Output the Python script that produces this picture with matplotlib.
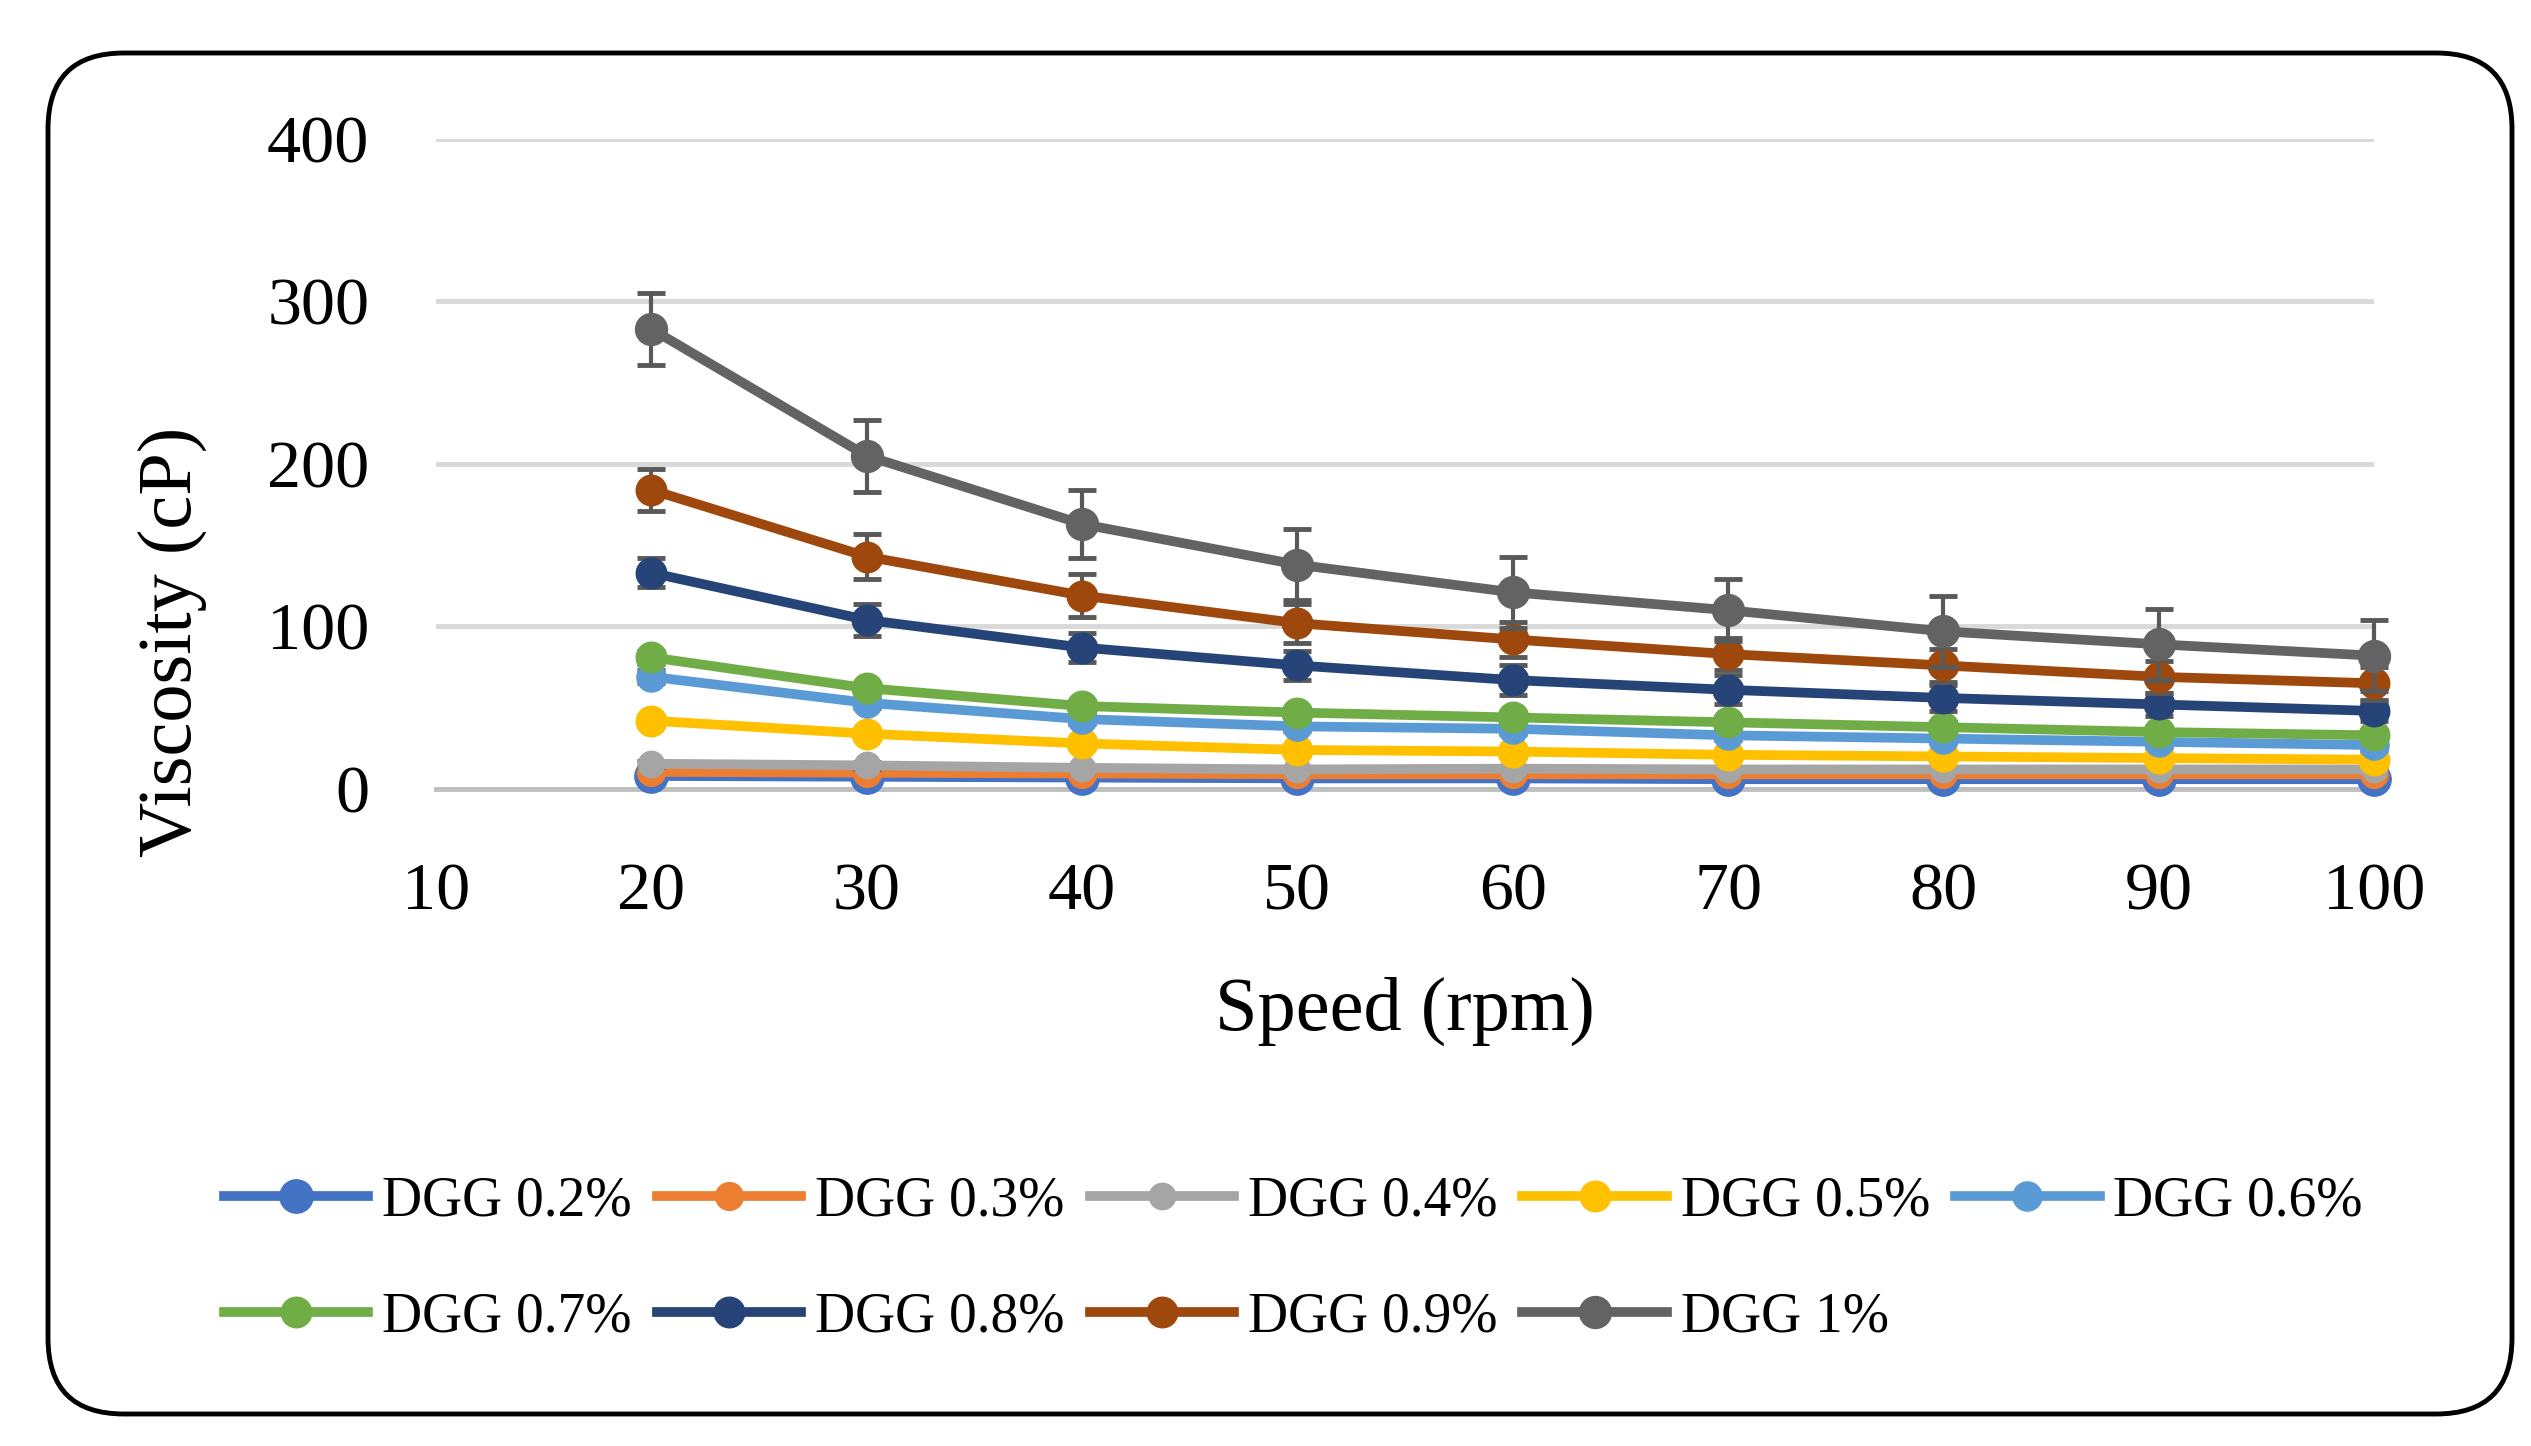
import numpy as np
import matplotlib.pyplot as plt
from matplotlib.lines import Line2D
from matplotlib.patches import FancyBboxPatch

# ------------------------------------------------------------
# Data
# ------------------------------------------------------------
speed = [20, 30, 40, 50, 60, 70, 80, 90, 100]

labels = ["DGG 0.2%", "DGG 0.3%", "DGG 0.4%", "DGG 0.5%", "DGG 0.6%",
          "DGG 0.7%", "DGG 0.8%", "DGG 0.9%", "DGG 1%"]

dgg02 = [8, 7.5, 7, 6.5, 6.5, 6, 6, 6, 6]
dgg03 = [10.5, 10, 9.5, 9, 9, 9, 9, 9, 9]
dgg04 = [15.5, 14.5, 13, 12, 12.5, 12, 12, 12, 12]
dgg05 = [42, 34, 28, 24, 23, 21, 20, 19, 18]
dgg06 = [69, 53, 43, 38.5, 37, 33, 31, 29, 27]
dgg07 = [81, 62, 51, 47, 44, 41, 38, 35, 33]
dgg08 = [133, 104, 87, 76, 67, 61, 56, 52, 48]
dgg09 = [184, 143, 119, 102, 92, 83, 76, 69, 65]
dgg10 = [283, 205, 163, 138, 121, 110, 97, 89, 82]

err02 = [1, 1, 1, 1, 1, 1, 1, 1, 1]
err03 = [1, 1, 1, 1, 1, 1, 1, 1, 1]
err04 = [2, 2, 1, 1, 1, 1, 1, 1, 1]
err05 = [3, 2, 2, 2, 2, 2, 2, 2, 2]
err06 = [4, 3, 3, 3, 3, 3, 3, 3, 3]
err07 = [4, 3, 3, 3, 3, 3, 3, 3, 3]
err08 = [9, 10, 9, 9, 9, 9, 8, 7, 6]
err09 = [13, 14, 13, 12, 11, 10, 10, 10, 10]
err10 = [22, 22, 21, 22, 22, 19, 22, 22, 22]

colors = ["#4472C4", "#ED7D31", "#A5A5A5", "#FFC000", "#5B9BD5",
          "#70AD47", "#264478", "#9E480E", "#636363"]

series = [dgg02, dgg03, dgg04, dgg05, dgg06, dgg07, dgg08, dgg09, dgg10]
errors = [err02, err03, err04, err05, err06, err07, err08, err09, err10]
msizes = [24, 20, 19, 22, 21, 22, 22, 22, 23]

plt.rcParams['font.family'] = ['Liberation Serif', 'DejaVu Serif']

fig = plt.figure(figsize=(25.31, 14.46), dpi=100)
ax = fig.add_axes([0.1723, 0.4544, 0.938 - 0.1723, 0.9039 - 0.4544])

# rounded frame round the whole chart
frame = FancyBboxPatch((48 / 2531, 1 - 1414 / 1446), (2512 - 48) / 2531, (1414 - 53) / 1446,
                       boxstyle="round,pad=0,rounding_size=0.03",
                       mutation_aspect=2531 / 1446,
                       transform=fig.transFigure, facecolor="white",
                       edgecolor="black", linewidth=3.5, zorder=-10)
fig.patches.append(frame)

for i, (y, e) in enumerate(zip(series, errors)):
    ax.errorbar(speed, y, yerr=e, fmt="none", ecolor="#595959",
                elinewidth=3, capsize=10, capthick=3.5, zorder=3 + i, clip_on=False)
    ax.plot(speed, y, color=colors[i], lw=7, marker="o", markersize=msizes[i],
            zorder=3 + i, clip_on=False)

ax.set_xlim(10, 100)
ax.set_ylim(0, 400)
ax.set_xticks(np.arange(10, 101, 10))
ax.set_yticks([0, 100, 200, 300, 400])

ax.grid(axis="y", color="#d9d9d9", lw=3.5)
ax.set_axisbelow(True)
for s in ["top", "right", "left"]:
    ax.spines[s].set_visible(False)
ax.spines["bottom"].set_color("#bfbfbf")
ax.spines["bottom"].set_linewidth(3.5)

ax.tick_params(axis="both", length=0, labelsize=49)
ax.tick_params(axis="y", pad=48)
ax.tick_params(axis="x", pad=53)

ax.set_xlabel("Speed (rpm)", fontsize=55, labelpad=38)
ax.set_ylabel("Viscosity (cP)", fontsize=55)
ax.yaxis.set_label_coords(-0.118, 0.226)

# legend - row-major order in 5 columns
handles = [Line2D([], [], color=c, lw=7, marker="o", markersize=m)
           for c, m in zip(colors, msizes)]
order = [0, 5, 1, 6, 2, 7, 3, 8, 4]
fig.legend([handles[k] for k in order], [labels[k] for k in order],
           ncol=5, loc="center", bbox_to_anchor=(0.511, 0.129),
           frameon=False, fontsize=40, handlelength=2.6, handletextpad=0.25,
           columnspacing=0.45, labelspacing=1.15, borderpad=0)

fig.savefig("out.png", dpi=100)
